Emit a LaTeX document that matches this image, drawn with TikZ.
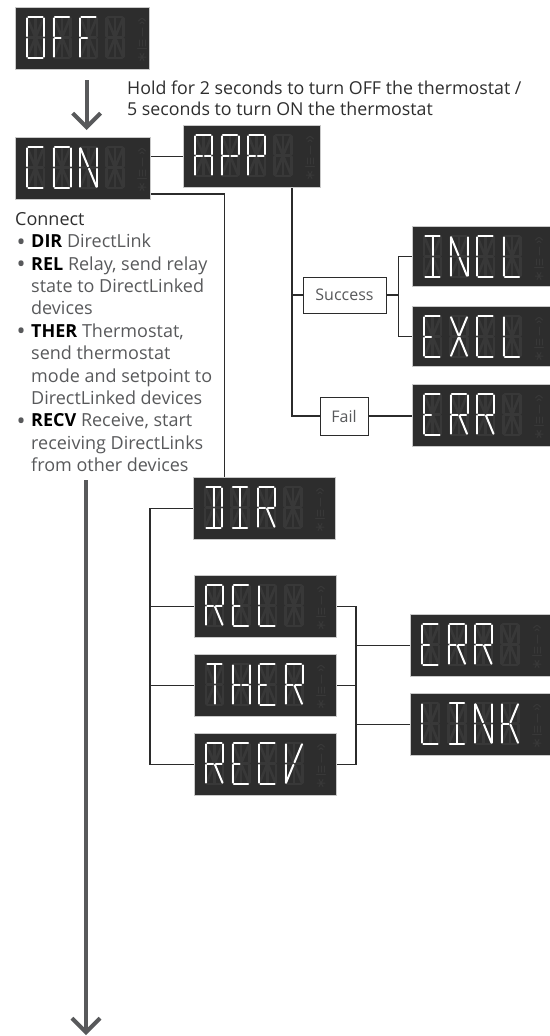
\documentclass[tikz,border=0pt]{standalone}
\usepackage{fontspec}
\setmainfont{Open Sans}
\usetikzlibrary{arrows.meta}
\usepackage{xcolor}

\definecolor{lcdbg}{HTML}{2D2D2D}
\definecolor{lcdedge}{HTML}{C9C9C9}
\definecolor{lcdghost}{HTML}{383838}
\definecolor{wirecol}{HTML}{2B2B2B}
\definecolor{arrowgray}{HTML}{58595B}
\definecolor{notegray}{HTML}{58595B}
\definecolor{headgray}{HTML}{2E2E2E}

\tikzset{
  lcdon/.style={draw=white, line width=2pt, line cap=round, shorten <=1.3pt, shorten >=1.3pt},
  lcdoff/.style={draw=lcdghost, line width=2.6pt, line cap=round, shorten <=1.3pt, shorten >=1.3pt},
  lcdicon/.style={draw=lcdghost, line width=1pt, line cap=round}
}

% 14 segments on a 3x3 point grid: 0 1 2 / 3 4 5 / 6 7 8
\def\lcdall{0/2,6/8,0/3,3/6,2/5,5/8,3/4,4/5,0/4,1/4,2/4,4/6,4/7,4/8}
\def\lcdA{0/2,2/5,5/8,0/3,3/6,3/4,4/5}
\def\lcdC{0/2,0/3,3/6,6/8}
\def\lcdD{0/2,2/5,5/8,6/8,1/4,4/7}
\def\lcdE{0/2,6/8,0/3,3/6,3/4}
\def\lcdF{0/2,0/3,3/6,3/4}
\def\lcdH{0/3,3/6,2/5,5/8,3/4,4/5}
\def\lcdI{0/2,6/8,1/4,4/7}
\def\lcdK{0/3,3/6,3/4,2/4,4/8}
\def\lcdL{0/3,3/6,6/8}
\def\lcdN{0/3,3/6,2/5,5/8,0/4,4/8}
\def\lcdO{0/2,2/5,5/8,6/8,3/6,0/3}
\def\lcdP{0/2,2/5,0/3,3/6,3/4,4/5}
\def\lcdR{0/2,2/5,0/3,3/6,3/4,4/5,4/8}
\def\lcdT{0/2,1/4,4/7}
\def\lcdV{0/3,3/6,4/6,2/4}
\def\lcdX{0/4,2/4,4/6,4/8}

% write a word into a display node
\newcommand{\lcdword}[2]{%
  \begin{scope}[shift={(#1.north west)}, shift={(12,10)}]
    % unlit cells
    \foreach \cell in {0,...,3}
      \foreach \p/\q in \lcdall
        \draw[lcdoff] ({\cell*26.5+mod(\p,3)*8.5},{int(\p/3)*20.5}) -- ({\cell*26.5+mod(\q,3)*8.5},{int(\q/3)*20.5});
    % lit letters
    \foreach \ch [count=\cell from 0] in {#2} {
      \expandafter\let\expandafter\lcdsegs\csname lcd\ch\endcsname
      \foreach \p/\q in \lcdsegs
        \draw[lcdon] ({\cell*26.5+mod(\p,3)*8.5},{int(\p/3)*20.5}) -- ({\cell*26.5+mod(\q,3)*8.5},{int(\q/3)*20.5});
    }
    % status icons
    \draw[lcdicon] (111.5,4) .. controls (115,0.5) .. (118.5,4);
    \draw[lcdicon] (113,6.5) .. controls (115,4.5) .. (117,6.5);
    \draw[lcdicon] (115,11) -- (115,19);
    \draw[lcdicon] (112,23) -- (112,29) (115,23) -- (115,29) (118,23) -- (118,29) (110.5,31) -- (119.5,31);
    \draw[lcdicon] (111,40) -- (119,40) (113,36.5) -- (117,43.5) (117,36.5) -- (113,43.5);
  \end{scope}}

\newcommand{\bul}{\makebox[16pt][l]{\hspace{1.5pt}\raisebox{-2.6pt}{\fontsize{24}{24}\selectfont\char"2022}}}
\newcommand{\indnt}{\hspace*{16pt}}

\begin{document}
\begin{tikzpicture}[x=1pt, y=-1pt,
  lcd/.style={rectangle, anchor=north west, fill=lcdbg, draw=lcdedge, line width=1.2pt,
    minimum width=137pt, minimum height=62pt, inner sep=0pt},
  lcdwide/.style={lcd, minimum width=142pt},
  tag/.style={rectangle, draw=wirecol, line width=0.9pt, fill=white, text=notegray,
    font=\fontsize{16}{16}\selectfont, minimum height=36pt, inner sep=0pt},
  wire/.style={draw=wirecol, line width=1.6pt},
  bigarrow/.style={draw=arrowgray, line width=4pt, -{Straight Barb[length=14pt,width=28pt]}}]

\useasboundingbox (0,0) rectangle (549,1036);

% displays
\node[lcd, minimum width=134pt] (off) at (15,7) {};
\node[lcd, minimum width=135pt] (con) at (15,137) {};
\node[lcd] (app) at (183,125) {};
\node[lcd, minimum width=140pt, minimum height=60pt] (incl) at (412,226) {};
\node[lcd, minimum width=140pt, minimum height=60pt] (excl) at (412,306) {};
\node[lcd, minimum width=140pt] (err) at (412,384) {};
\node[lcdwide] (dir) at (193,477) {};
\node[lcdwide] (rel) at (194,575) {};
\node[lcdwide] (ther) at (194,654) {};
\node[lcdwide] (recv) at (194,733) {};
\node[lcd, minimum width=142pt] (errb) at (410,614) {};
\node[lcd, minimum width=142pt] (link) at (410,693) {};

\lcdword{off}{O,F,F}
\lcdword{con}{C,O,N}
\lcdword{app}{A,P,P}
\lcdword{incl}{I,N,C,L}
\lcdword{excl}{E,X,C,L}
\lcdword{err}{E,R,R}
\lcdword{dir}{D,I,R}
\lcdword{rel}{R,E,L}
\lcdword{ther}{T,H,E,R}
\lcdword{recv}{R,E,C,V}
\lcdword{errb}{E,R,R}
\lcdword{link}{L,I,N,K}

% result tags
\node[tag, minimum width=83pt] (success) at (344.5,295) {Success};
\node[tag, minimum width=48pt, minimum height=38pt] (fail) at (344,416) {Fail};

% notes
\node[anchor=west, align=left, inner sep=0pt, text=headgray, font=\fontsize{17.8}{21}\selectfont]
  (hold) at (127,98.5) {Hold for 2 seconds to turn OFF the thermostat /\\5 seconds to turn ON the thermostat};
\node[anchor=north west, align=left, inner sep=0pt, text=notegray, font=\fontsize{18}{22.4}\selectfont]
  (connect) at (15,212) {\textcolor{headgray}{Connect}\\
  \bul\textcolor{black}{\textbf{DIR}} DirectLink\\
  \bul\textcolor{black}{\textbf{REL}} Relay, send relay\\
  \indnt state to DirectLinked\\
  \indnt devices\\
  \bul\textcolor{black}{\textbf{THER}} Thermostat,\\
  \indnt send thermostat\\
  \indnt mode and setpoint to\\
  \indnt DirectLinked devices\\
  \bul\textcolor{black}{\textbf{RECV}} Receive, start\\
  \indnt receiving DirectLinks\\
  \indnt from other devices};

% hold arrows
\draw[bigarrow, shorten <=10pt, shorten >=7pt] ([xshift=4pt]off.south) -- ([xshift=4pt]off.south |- con.north);
\coordinate (downstart) at (86,480);
\coordinate (downend) at (86,1035);
\draw[bigarrow] (downstart) -- (downend);

% CON to APP and DIR
\draw[wire] (app.west) -- (app.west -| con.east);
\draw[wire] ([yshift=6pt]con.south east) -| ([xshift=-40pt]dir.north);

% APP branches
\coordinate (appdrop) at ([xshift=40pt]app.south);
\draw[wire] (appdrop) |- (fail.west);
\draw[wire] (success.west) -- (success.west -| appdrop);
\coordinate (succfork) at ([xshift=12pt]success.east);
\draw[wire] (success.east) -- (succfork);
\draw[wire] (incl.west) -| (succfork) |- (excl.west);
\draw[wire] (fail.east) -- (fail.east -| err.west);

% DIR group
\coordinate (dirfork) at ([xshift=-43pt]dir.west);
\draw[wire] (dir.west) -| (dirfork |- recv.west) -- (recv.west);
\draw[wire] (rel.west) -- (rel.west -| dirfork);
\draw[wire] (ther.west) -- (ther.west -| dirfork);

% REL, THER, RECV results
\coordinate (relfork) at ([xshift=19pt]rel.east);
\draw[wire] (rel.east) -| (relfork |- recv.east) -- (recv.east);
\draw[wire] (ther.east) -- (ther.east -| relfork);
\draw[wire] (errb.west) -- (errb.west -| relfork);
\draw[wire] (link.west) -- (link.west -| relfork);

\end{tikzpicture}
\end{document}
